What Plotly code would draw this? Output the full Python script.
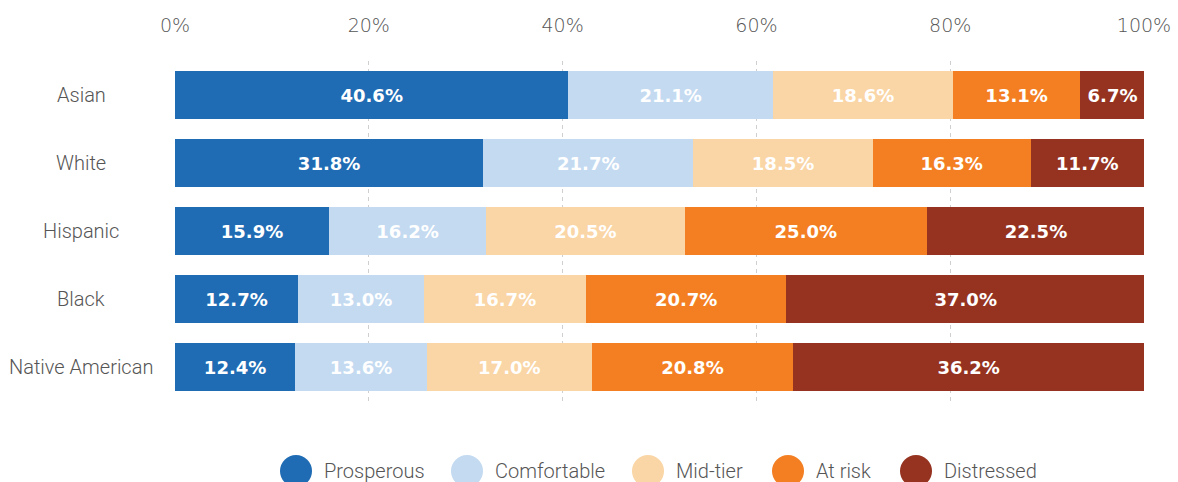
import plotly.graph_objects as go

# Financial-health tiers by race / ethnicity (share of households, %)
groups = ["Asian", "White", "Hispanic", "Black", "Native American"]
tiers = ["Prosperous", "Comfortable", "Mid-tier", "At risk", "Distressed"]
prosperous = [40.6, 31.8, 15.9, 12.7, 12.4]
comfortable = [21.1, 21.7, 16.2, 13.0, 13.6]
mid_tier = [18.6, 18.5, 20.5, 16.7, 17.0]
at_risk = [13.1, 16.3, 25.0, 20.7, 20.8]
distressed = [6.7, 11.7, 22.5, 37.0, 36.2]
tick_vals = [0, 20, 40, 60, 80, 100]

series = [prosperous, comfortable, mid_tier, at_risk, distressed]
colors = ["#206cb4", "#c3daf1", "#fad5a5", "#f47f22", "#963320"]

W, H = 1178, 482
L, R, T, B = 175, 34, 61, 81
plot_w = W - L - R
plot_h = H - T - B


def px_x(p):
    return (p - L) / plot_w


def px_y(p):
    return (H - B - p) / plot_h


TEXT_FONT = "Roboto"
NUM_FONT = "DejaVu Sans"

fig = go.Figure()
for name, vals, col in zip(tiers, series, colors):
    fig.add_trace(go.Bar(
        y=groups, x=vals, name=name, orientation="h",
        marker=dict(color=col, line=dict(width=0)),
        text=vals, texttemplate="%{x:.1f}%",
        textposition="inside", insidetextanchor="middle",
        constraintext="none",
        textfont=dict(family=NUM_FONT, size=18, color="white", weight=700),
        hoverinfo="skip", showlegend=False,
    ))

# group labels, centred in the left margin
annotations = []
for g in groups:
    annotations.append(dict(
        x=px_x(81), y=g, xref="paper", yref="y", text=g, showarrow=False,
        xanchor="center", yanchor="middle",
        font=dict(family=TEXT_FONT, size=20, color="#555555", weight=300),
    ))

# legend: filled circles with labels along the bottom
legend_circle_x = [296, 467, 648, 788, 916]
legend_y = 471
radius = 16
shapes = []
for name, col, cx in zip(tiers, colors, legend_circle_x):
    shapes.append(dict(
        type="circle", xref="paper", yref="paper",
        x0=px_x(cx - radius), x1=px_x(cx + radius),
        y0=px_y(legend_y + radius), y1=px_y(legend_y - radius),
        fillcolor=col, line=dict(width=0), layer="above",
    ))
    annotations.append(dict(
        x=px_x(cx + radius + 10), y=px_y(legend_y), xref="paper", yref="paper",
        text=name, showarrow=False, xanchor="left", yanchor="middle",
        font=dict(family=TEXT_FONT, size=20, color="#555555", weight=300),
    ))

fig.update_layout(
    template="none",
    width=W, height=H,
    margin=dict(l=L, r=R, t=T, b=B, pad=0, autoexpand=False),
    barmode="stack", bargap=0.294,
    plot_bgcolor="white", paper_bgcolor="white",
    annotations=annotations, shapes=shapes,
    xaxis=dict(
        range=[0, 100], side="top", automargin=False,
        tickvals=tick_vals, ticktext=[f"{v}%" for v in tick_vals],
        showgrid=True, gridcolor="#cfcfcf", griddash="4px,4px", gridwidth=1,
        zeroline=False, showline=False, ticks="",
        ticklabelstandoff=24,
        tickfont=dict(family=NUM_FONT, size=19, color="#555555", weight=200),
    ),
    yaxis=dict(
        autorange="reversed", showticklabels=False, showgrid=False,
        automargin=False,
        zeroline=False, showline=False, ticks="",
    ),
)

fig.write_html("out.html")
